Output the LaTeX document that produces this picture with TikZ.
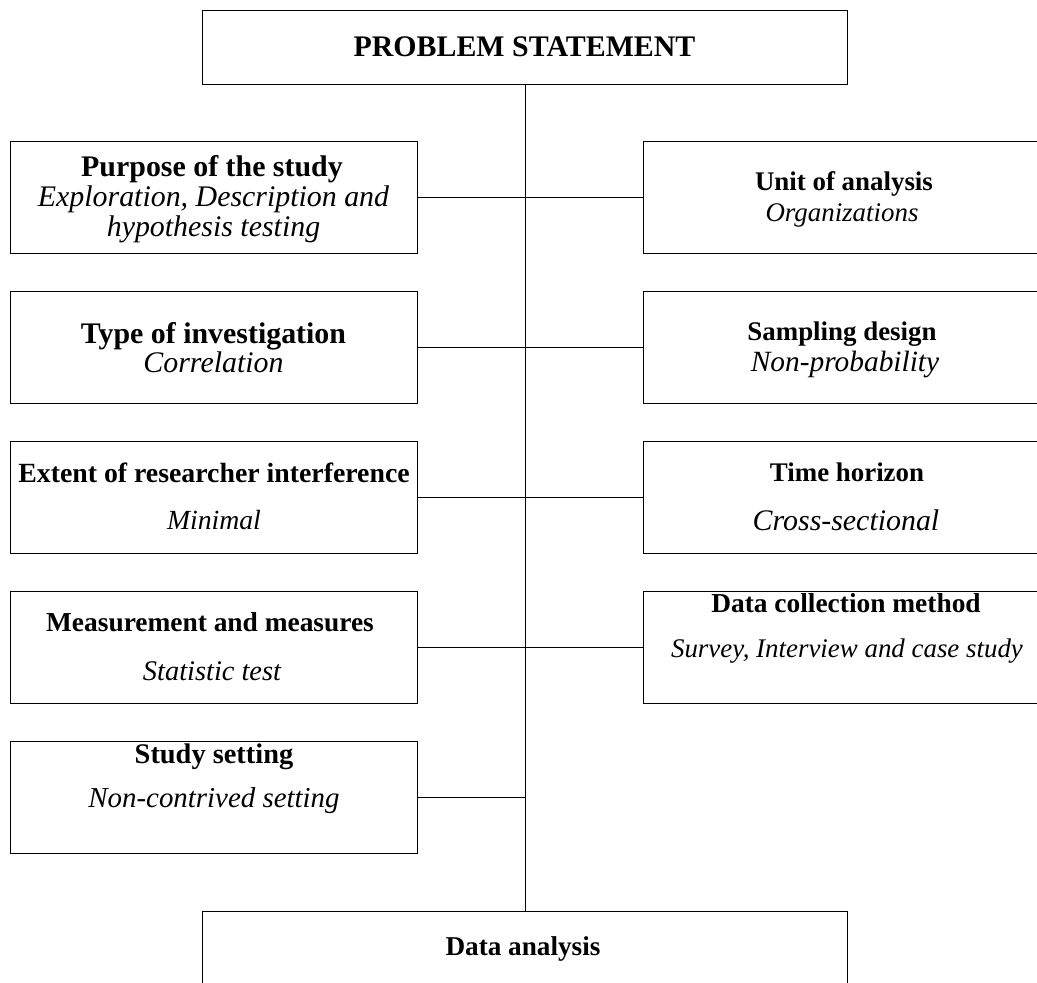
\documentclass[tikz,border=0pt]{standalone}
\usepackage{fontspec}
\setmainfont{Liberation Serif}
\begin{document}
\begin{tikzpicture}[x=1bp,y=-1bp,
  frame/.style={draw=black, line width=1.4bp, rectangle, inner sep=0pt,
    anchor=north west, minimum width=407bp, minimum height=112bp},
  wide/.style={frame, minimum width=645bp, minimum height=74bp},
  head/.style={font=\fontsize{#1}{#1}\selectfont\bfseries, inner sep=0pt, anchor=base},
  head/.default=27,
  sub/.style={font=\fontsize{#1}{#1}\selectfont\itshape, inner sep=0pt, anchor=base},
  sub/.default=27,
  link/.style={line width=1.1bp}]
\clip (0,0) rectangle (1037,983);
\fill[white] (0,0) rectangle (1037,983);

% top and bottom boxes
\node[wide] (top) at (202,10) {};
\node[wide] (bottom) at (202,911) {};
\node[head=30] (toptxt) at (524.5,56) {PROBLEM STATEMENT};
\node[head=27.3] (bottxt) at (523,955) {Data analysis};

% left column
\node[frame] (L1) at (10,141) {};
\node[frame] (L2) at (10,291) {};
\node[frame] (L3) at (10,441) {};
\node[frame] (L4) at (10,591) {};
\node[frame] (L5) at (10,741) {};

% right column (runs past the right edge)
\node[frame] (R1) at (643,141) {};
\node[frame] (R2) at (643,291) {};
\node[frame] (R3) at (643,441) {};
\node[frame] (R4) at (643,591) {};

% spine and branches
\draw[link] (top.south) -- (bottom.north);
\foreach \b in {L1,L2,L3,L4,L5} \draw[link] (\b.east) -- (\b.east -| top.south);
\foreach \b in {R1,R2,R3,R4} \draw[link] (\b.west) -- (\b.west -| top.south);

% left texts
\node[head=30]   (L1a) at (212,176) {Purpose of the study};
\node[sub=30]    (L1b) at (213.5,206) {Exploration, Description and};
\node[sub=30]    (L1c) at (213.5,236) {hypothesis testing};
\node[head=30]   (L2a) at (213.5,343) {Type of investigation};
\node[sub=30]    (L2b) at (213.5,372) {Correlation};
\node[head=27.9] (L3a) at (214,482) {Extent of researcher interference};
\node[sub=27.8]  (L3b) at (214,529) {Minimal};
\node[head=27.5] (L4a) at (210,631) {Measurement and measures};
\node[sub=28.5]  (L4b) at (212,680) {Statistic test};
\node[head=28.5] (L5a) at (214,763) {Study setting};
\node[sub=29]    (L5b) at (214,807) {Non-contrived setting};

% right texts
\node[head=27]   (R1a) at (844,190) {Unit of analysis};
\node[sub=27]    (R1b) at (842,221) {Organizations};
\node[head=27]   (R2a) at (842,340) {Sampling design};
\node[sub=29.5]  (R2b) at (845,371) {Non-probability};
\node[head=27]   (R3a) at (847,481) {Time horizon};
\node[sub=30]    (R3b) at (846,530) {Cross-sectional};
\node[head=27.5] (R4a) at (846,612) {Data collection method};
\node[sub=27]    (R4b) at (847,657) {Survey, Interview and case study};
\end{tikzpicture}
\end{document}
